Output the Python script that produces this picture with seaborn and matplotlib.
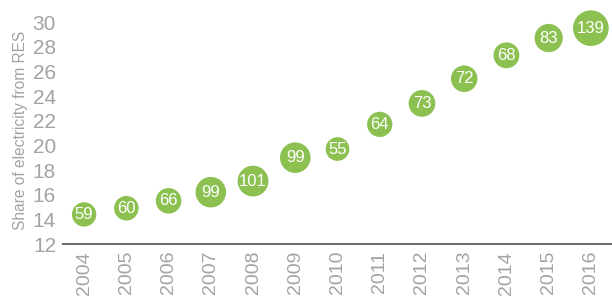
import matplotlib
matplotlib.use("Agg")
import matplotlib.pyplot as plt
import seaborn as sns
import pandas as pd

anios = [2004, 2005, 2006, 2007, 2008, 2009, 2010, 2011, 2012, 2013, 2014, 2015, 2016]
cuota_res = [14.4, 14.9, 15.5, 16.2, 17.1, 19.0, 19.7, 21.7, 23.4, 25.4, 27.3, 28.7, 29.5]
valores_burbuja = [59, 60, 66, 99, 101, 99, 55, 64, 73, 72, 68, 83, 139]
ticks_y = [12, 14, 16, 18, 20, 22, 24, 26, 28, 30]

verde = "#8cc152"
gris = "#a3a3a3"

sns.set_style("white")
plt.rcParams["font.family"] = ["Liberation Sans", "DejaVu Sans"]

db = pd.DataFrame({"anio": anios, "cuota": cuota_res, "valor": valores_burbuja})

fig = plt.figure(figsize=(6.12, 2.98), dpi=100)
ax = fig.add_axes([63 / 612, 1 - 244 / 298, 1 - 63 / 612, (244 - 22) / 298])

sns.scatterplot(data=db, x="anio", y="cuota", size="valor", sizes=(290, 660),
                color=verde, edgecolor="none", alpha=1, legend=False,
                clip_on=False, ax=ax)

for a, c, v in zip(anios, cuota_res, valores_burbuja):
    ax.text(a, c, str(v), color="white", fontsize=12, ha="center", va="center")

ax.set_xlim(2003.5, 2016.5)
ax.set_ylim(12, 30)
ax.set_yticks(ticks_y)
ax.set_xticks(anios)
ax.set_xticks([a - 0.5 for a in anios] + [2016.5], minor=True)
ax.set_xticklabels([str(a) for a in anios], rotation=90, color=gris, fontsize=14)
ax.set_yticklabels([str(t) for t in ticks_y], color=gris, fontsize=15)
ax.tick_params(axis="x", which="major", length=0, pad=5)
ax.tick_params(axis="x", which="minor", direction="in", length=4, width=1, color="#6e6e6e")
ax.tick_params(axis="y", length=0, pad=5)

for lado in ["top", "right", "left"]:
    ax.spines[lado].set_visible(False)
ax.spines["bottom"].set_color("#6e6e6e")
ax.spines["bottom"].set_linewidth(1.5)

ax.set_xlabel("")
ax.set_ylabel("Share of electricity from RES", color=gris, fontsize=11.2)
ax.yaxis.set_label_coords(-0.064, 0.51)

fig.savefig("out.png", dpi=100)
